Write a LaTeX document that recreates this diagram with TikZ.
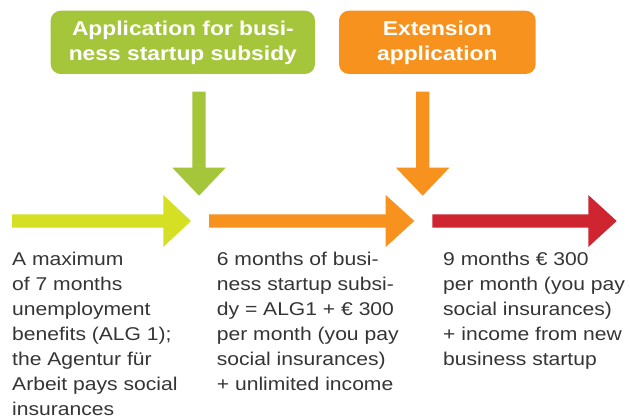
\documentclass[tikz,border=0pt]{standalone}
\usepackage{fontspec}
\setmainfont{Liberation Sans}[FakeStretch=1.14]
\begin{document}
\definecolor{lime}{HTML}{D5DF24}
\definecolor{leaf}{HTML}{A5C53B}
\definecolor{tangerine}{HTML}{F7921E}
\definecolor{signalred}{HTML}{CF2530}
\definecolor{ink}{HTML}{353535}
% block arrows: #1 colour, #2 start, #3 shaft end, #4 tip, #5 centre line
\newcommand\blockarrowright[5]{%
  \fill[#1] (#2,#5-6.7) -- (#3,#5-6.7) -- (#3,#5-26) -- (#4,#5)
    -- (#3,#5+26) -- (#3,#5+6.7) -- (#2,#5+6.7) -- cycle;}
\newcommand\blockarrowdown[5]{%
  \fill[#1] (#5-6.7,#2) -- (#5-6.7,#3) -- (#5-26.7,#3) -- (#5,#4)
    -- (#5+26.7,#3) -- (#5+6.7,#3) -- (#5+6.7,#2) -- cycle;}
\begin{tikzpicture}[x=1pt,y=-1pt,
  stagebox/.style={rounded corners=10pt, minimum height=63.3pt, inner sep=0pt,
    text=white, align=center,
    font=\fontsize{20}{25}\selectfont\bfseries},
  % multi-line nodes sit on the baseline of their last line
  stagetext/.style={anchor=base west, inner sep=0pt, align=left, text=ink,
    font=\fontsize{18.5}{25}\selectfont}]
\useasboundingbox (0,0) rectangle (630,420);
\fill[white] (0,0) rectangle (630,420);

% application boxes
\node[stagebox, fill=leaf, minimum width=264.3pt] (apply) at (182.85,42.35)
  {Application for busi-\\ness startup subsidy};
\node[stagebox, fill=tangerine, minimum width=196.7pt] (extend) at (437.35,42.35)
  {Extension\\application};

% arrows from the applications down to the time line
\blockarrowdown{leaf}{91.7}{167.7}{195.7}{199}
\blockarrowdown{tangerine}{91.7}{167.7}{195.7}{422.7}

% time line of the three phases
\blockarrowright{lime}{12}{163.3}{191}{221}
\blockarrowright{tangerine}{209}{385.7}{414.3}{221}
\blockarrowright{signalred}{432.3}{588.3}{616.7}{221}

% phase descriptions, first baselines at 265
\node[stagetext] (phaseone) at (12,415)
  {A maximum\\of 7 months\\unemployment\\benefits (ALG 1);\\the Agentur für\\Arbeit pays social\\insurances};
\node[stagetext] (phasetwo) at (216.7,390)
  {6 months of busi-\\ness startup subsi-\\dy = ALG1 + € 300\\per month (you pay\\social insurances)\\+ unlimited income};
\node[stagetext] (phasethree) at (443,365)
  {9 months € 300\\per month (you pay\\social insurances)\\+ income from new\\business startup};
\end{tikzpicture}
\end{document}
